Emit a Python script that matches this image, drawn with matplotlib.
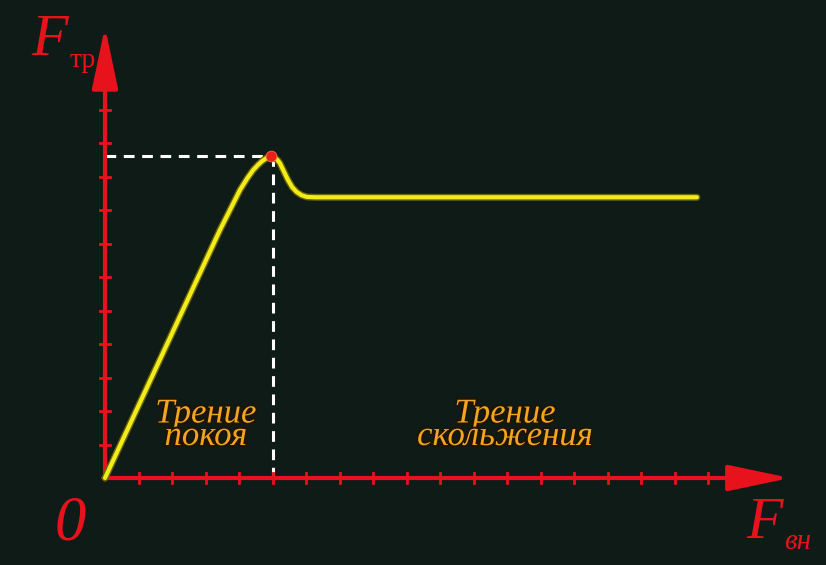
import numpy as np
import matplotlib
matplotlib.use("Agg")
import matplotlib.pyplot as plt
import matplotlib.patheffects as pe

# curve of friction force vs external force (units = tick steps)
f_ext = [0.0, 3.43, 4.03, 4.25, 4.42, 4.58, 4.69, 4.82, 4.93, 5.05, 5.15, 5.22, 5.34, 5.46, 5.59, 5.72, 5.87, 6.03, 6.3, 17.67]
f_fr = [0.0, 7.40, 8.60, 8.95, 9.19, 9.36, 9.46, 9.55, 9.60, 9.57, 9.49, 9.40, 9.15, 8.90, 8.68, 8.54, 8.44, 8.39, 8.38, 8.38]
peak_x, peak_y = 4.97, 9.6
x_ticks = np.arange(1, 19)
y_ticks = np.arange(1, 12)

bg = "#0f1b17"
red = "#e8121c"
yellow = "#f2ec1a"
orange = "#f2a51e"

fig = plt.figure(figsize=(8.26, 5.65), dpi=100)
fig.patch.set_facecolor(bg)
ax = fig.add_axes([0, 0, 1, 1])
ax.set_facecolor(bg)
ax.set_xlim(-105 / 33.5, 721 / 33.5)
ax.set_ylim(-87 / 33.5, 478 / 33.5)
ax.axis("off")

# dashed guides to the peak
ax.plot([0, peak_x], [peak_y, peak_y], color="white", lw=2.2, dashes=(3.5, 2.5), zorder=2)
ax.plot([peak_x + 0.05, peak_x + 0.05], [0, peak_y], color="white", lw=2.2, dashes=(3.5, 2.5), zorder=2)

# axes with arrows
arrow = dict(arrowstyle="-|>,head_length=3.8,head_width=0.8",
             color=red, lw=3, shrinkA=0, shrinkB=0)
ax.annotate("", xy=(20.45, 0), xytext=(-0.05, 0), arrowprops=arrow, zorder=3)
ax.annotate("", xy=(0, 13.47), xytext=(0, -0.05), arrowprops=arrow, zorder=3)
for t in x_ticks:
    ax.plot([t, t], [-0.16, 0.16], color=red, lw=2, zorder=3)
for t in y_ticks:
    ax.plot([-0.16, 0.16], [t, t], color=red, lw=2, zorder=3)

# curve
ax.plot(f_ext, f_fr, color="#6a6400", lw=5, solid_capstyle="round", zorder=4)
ax.plot(f_ext, f_fr, color=yellow, lw=3, solid_capstyle="round", solid_joinstyle="round", zorder=5)
ax.scatter([peak_x], [peak_y], s=60, color="#e8201a", edgecolors="#ff6a50", linewidths=0.6, zorder=6)

# region labels
shadow = [pe.withStroke(linewidth=3, foreground="#1e1405")]
txt = dict(color=orange, fontsize=25, family="Liberation Serif", style="italic",
           ha="center", va="baseline", multialignment="center", linespacing=0.58,
           path_effects=shadow, zorder=7)
ax.text(3.01, 0.985, "Трение\nпокоя", **txt)
ax.text(11.94, 0.985, "Трение\nскольжения", **txt)

# axis labels
lab = dict(color=red, family="Liberation Serif", va="baseline", zorder=7)
ax.text(-2.2, 12.63, "F", fontsize=43, style="italic", **lab)
ax.text(-1.06, 12.27, "тр", fontsize=20, **lab)
ax.text(19.13, -1.79, "F", fontsize=43, style="italic", **lab)
ax.text(20.27, -2.12, "вн", fontsize=21, style="italic", **lab)
ax.text(-1.49, -1.85, "0", fontsize=45, style="italic", **lab)

plt.savefig("out.png", dpi=100, facecolor=bg)
